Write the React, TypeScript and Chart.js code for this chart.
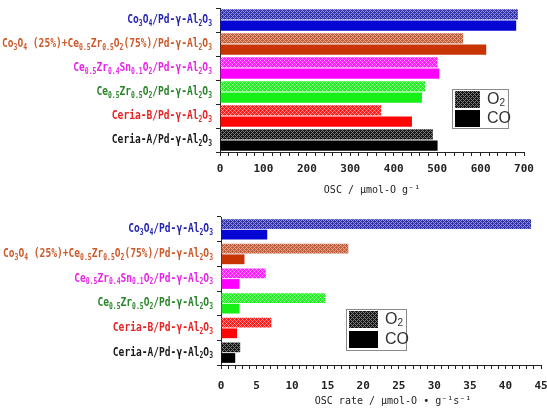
import React, { useEffect, useRef } from 'react';
import { Chart, registerables } from 'chart.js';
Chart.register(...registerables);

// ---- data ----
const categories = [
  'Co_{3}O_{4}/Pd-γ-Al_{2}O_{3}',
  'Co_{3}O_{4} (25%)+Ce_{0.5}Zr_{0.5}O_{2}(75%)/Pd-γ-Al_{2}O_{3}',
  'Ce_{0.5}Zr_{0.4}Sn_{0.1}O_{2}/Pd-γ-Al_{2}O_{3}',
  'Ce_{0.5}Zr_{0.5}O_{2}/Pd-γ-Al_{2}O_{3}',
  'Ceria-B/Pd-γ-Al_{2}O_{3}',
  'Ceria-A/Pd-γ-Al_{2}O_{3}',
];
const labelColors = ['#2424b4', '#cc5a2a', '#e626e6', '#2a842a', '#e62424', '#1a1a1a'];
const o2Base = ['#3434ac', '#c0603e', '#ff1cff', '#22ec22', '#ff1a1a', '#161616'];
const o2Light = ['#8c8cd8', '#e4a48c', '#ffa0ff', '#a0ffa0', '#ffa0a0', '#7a7a7a'];
const coColors = ['#0606d4', '#c83404', '#ff00ff', '#16f016', '#ff0606', '#000000'];
const seriesNames = ['O2', 'CO'];

const oscO2 = [686, 560, 501, 472, 371, 490];
const oscCO = [682, 613, 505, 465, 442, 501];
const rateO2 = [43.6, 17.9, 6.3, 14.7, 7.1, 2.7];
const rateCO = [6.5, 3.3, 2.6, 2.6, 2.25, 2.0];

const oscTitle = 'OSC / μmol-O g⁻¹';
const rateTitle = '    OSC rate / μmol-O • g⁻¹s⁻¹';

// ---- helpers ----
function hatch(base: string, light: string): CanvasPattern | string {
  const c = document.createElement('canvas');
  c.width = 4; c.height = 4;
  const g = c.getContext('2d');
  if (!g) return base;
  g.fillStyle = base; g.fillRect(0, 0, 4, 4);
  g.fillStyle = light;
  for (let x = 0; x < 4; x++) for (let y = 0; y < 4; y++) {
    if ((x + y) % 4 === 0 || (x - y + 4) % 4 === 0) g.fillRect(x, y, 1, 1);
  }
  return g.createPattern(c, 'repeat') || base;
}

function parseRich(s: string) {
  const segs: { t: string; sub: boolean }[] = [];
  const re = /_\{([^}]*)\}/g;
  let last = 0; let m: RegExpExecArray | null;
  while ((m = re.exec(s))) {
    if (m.index > last) segs.push({ t: s.slice(last, m.index), sub: false });
    segs.push({ t: m[1], sub: true });
    last = re.lastIndex;
  }
  if (last < s.length) segs.push({ t: s.slice(last), sub: false });
  return segs;
}

const MAIN_FONT = "bold 12px 'DejaVu Sans Mono'";
const SUB_FONT = "bold 8px 'DejaVu Sans Mono'";
const SX = 0.8;

function drawRich(ctx: CanvasRenderingContext2D, s: string, xRight: number, yMid: number, color: string) {
  const segs = parseRich(s);
  let w = 0;
  for (const sg of segs) { ctx.font = sg.sub ? SUB_FONT : MAIN_FONT; w += ctx.measureText(sg.t).width; }
  ctx.save();
  ctx.translate(xRight - w * SX, yMid);
  ctx.scale(SX, 1);
  ctx.fillStyle = color;
  ctx.textBaseline = 'middle';
  ctx.textAlign = 'left';
  let x = 0;
  for (const sg of segs) {
    ctx.font = sg.sub ? SUB_FONT : MAIN_FONT;
    ctx.fillText(sg.t, x, sg.sub ? 3.5 : 0);
    x += ctx.measureText(sg.t).width;
  }
  ctx.restore();
}

const labelPlugin = {
  id: 'richLabels',
  afterDraw(chart: any) {
    const ctx = chart.ctx as CanvasRenderingContext2D;
    const ys = chart.scales.y;
    categories.forEach((c, i) => {
      drawRich(ctx, c, chart.chartArea.left - 8, ys.getPixelForValue(i), labelColors[i]);
    });
  },
};

function makeLegendPlugin(box: { x: number; y: number; w: number; h: number; sw: number; sh: number; gap: number }) {
  return {
    id: 'boxLegend',
    afterDraw(chart: any) {
      const ctx = chart.ctx as CanvasRenderingContext2D;
      ctx.save();
      ctx.fillStyle = '#ffffff';
      ctx.fillRect(box.x, box.y, box.w, box.h);
      ctx.strokeStyle = '#8a8a8a';
      ctx.lineWidth = 1;
      ctx.strokeRect(box.x + 0.5, box.y + 0.5, box.w, box.h);
      const sx = box.x + 3;
      const y1 = box.y + 2;
      const y2 = y1 + box.sh + box.gap;
      ctx.fillStyle = hatch('#161616', '#7a7a7a') as any;
      ctx.fillRect(sx, y1, box.sw, box.sh);
      ctx.fillStyle = '#000000';
      ctx.fillRect(sx, y2, box.sw, box.sh);
      const tx = sx + box.sw + 7;
      ctx.fillStyle = '#333333';
      ctx.textBaseline = 'middle';
      ctx.textAlign = 'left';
      ctx.font = "16px 'Liberation Sans'";
      ctx.fillText('O', tx, y1 + box.sh / 2);
      const ow = ctx.measureText('O').width;
      ctx.font = "10px 'Liberation Sans'";
      ctx.fillText('2', tx + ow, y1 + box.sh / 2 + 4);
      ctx.font = "16px 'Liberation Sans'";
      ctx.fillText(seriesNames[1], tx, y2 + box.sh / 2);
      ctx.restore();
    },
  };
}

function makeConfig(p: {
  o2: number[]; co: number[]; max: number; step: number; major: number; title: string;
  padTop: number; padRight: number; xHeight: number; yWidth: number; titlePadBottom: number;
  catPct: number; tickPad: number; legend: any;
}): any {
  return {
    type: 'bar',
    data: {
      labels: categories,
      datasets: [
        {
          label: seriesNames[0], data: p.o2,
          backgroundColor: o2Base.map((b, i) => hatch(b, o2Light[i])),
          borderWidth: 0, categoryPercentage: p.catPct, barPercentage: 0.92,
        },
        {
          label: seriesNames[1], data: p.co, backgroundColor: coColors,
          borderWidth: 0, categoryPercentage: p.catPct, barPercentage: 0.92,
        },
      ],
    },
    options: {
      indexAxis: 'y',
      animation: false,
      responsive: false,
      events: [],
      layout: { padding: { top: p.padTop, right: p.padRight, bottom: 0, left: 0 } },
      plugins: { legend: { display: false }, tooltip: { enabled: false } },
      scales: {
        x: {
          type: 'linear', min: 0, max: p.max, position: 'bottom',
          afterFit: (s: any) => { s.height = p.xHeight; s.paddingLeft = 0; s.paddingRight = 0; },
          ticks: {
            stepSize: p.step, autoSkip: false, maxRotation: 0, padding: p.tickPad,
            callback: (v: any) => (Math.abs(v / p.major - Math.round(v / p.major)) < 1e-6 ? String(v) : ''),
            font: { family: 'DejaVu Sans Mono', size: 11, weight: 'bold' }, color: '#222',
          },
          grid: { drawOnChartArea: false, drawTicks: true, tickLength: 4, color: '#222' },
          border: { color: '#222', width: 1 },
          title: {
            display: true, text: p.title, color: '#222',
            font: { family: 'DejaVu Sans Mono', size: 10 },
            padding: { top: 0, bottom: p.titlePadBottom },
          },
        },
        y: {
          type: 'category',
          afterFit: (s: any) => { s.width = p.yWidth; },
          ticks: { display: false },
          grid: { drawOnChartArea: false, offset: true, drawTicks: true, tickLength: 4, color: '#222' },
          border: { color: '#222', width: 1 },
        },
      },
    },
    plugins: [labelPlugin, makeLegendPlugin(p.legend)],
  };
}

export default function App() {
  const topRef = useRef<HTMLCanvasElement>(null);
  const botRef = useRef<HTMLCanvasElement>(null);
  useEffect(() => {
    const c1 = new Chart(topRef.current!, makeConfig({
      o2: oscO2, co: oscCO, max: 700, step: 20, major: 100, title: oscTitle,
      padTop: 8, padRight: 23, xHeight: 53, yWidth: 220, titlePadBottom: 9, catPct: 0.93, tickPad: 7,
      legend: { x: 452, y: 89, w: 56, h: 39, sw: 25, sh: 17, gap: 2 },
    }));
    const c2 = new Chart(botRef.current!, makeConfig({
      o2: rateO2, co: rateCO, max: 45, step: 1, major: 5, title: rateTitle,
      padTop: 12, padRight: 6, xHeight: 45, yWidth: 221, titlePadBottom: 3, catPct: 0.86, tickPad: 11,
      legend: { x: 346, y: 104, w: 60, h: 41, sw: 29, sh: 17, gap: 3 },
    }));
    return () => { c1.destroy(); c2.destroy(); };
  }, []);
  return (
    <div style={{ position: 'absolute', left: 0, top: 0, width: 547, height: 410, background: '#fff' }}>
      <canvas ref={topRef} width={547} height={205} style={{ display: 'block', width: 547, height: 205 }} />
      <canvas ref={botRef} width={547} height={205} style={{ display: 'block', width: 547, height: 205 }} />
    </div>
  );
}
